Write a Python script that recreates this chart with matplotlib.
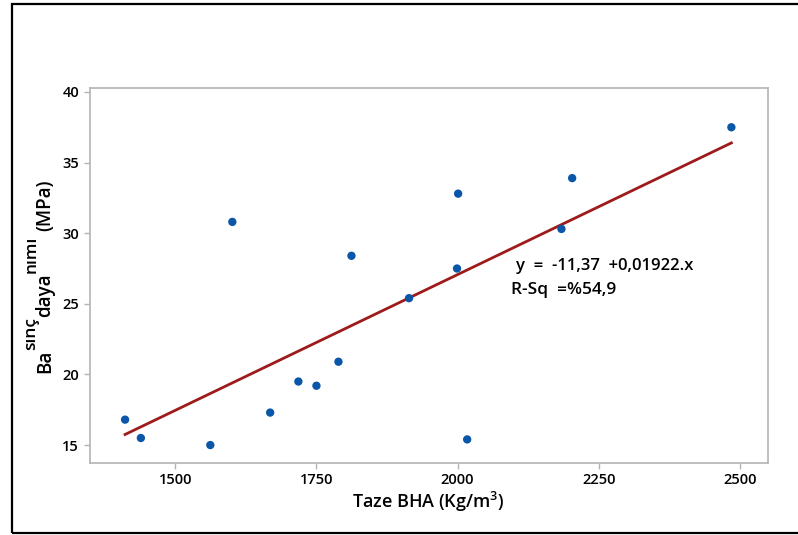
import matplotlib
matplotlib.use("Agg")
import matplotlib.pyplot as plt
from matplotlib.patches import Rectangle
import numpy as np

# Data
bha = [1411, 1439, 1562, 1601, 1668, 1718, 1750, 1789, 1812, 1914, 2001, 1999, 2017, 2184, 2203, 2485]
strength = [16.8, 15.5, 15.0, 30.8, 17.3, 19.5, 19.2, 20.9, 28.4, 25.4, 32.8, 27.5, 15.4, 30.3, 33.9, 37.5]
intercept = -11.37
slope = 0.01922
xticks = [1500, 1750, 2000, 2250, 2500]
yticks = [15, 20, 25, 30, 35, 40]
ylabel_parts = [("Ba", False), ("sınç", True), ("daya", False), ("nımı", True), ("(MPa)", False)]

plt.rcParams['font.family'] = ['Open Sans', 'DejaVu Sans']
plt.rcParams['mathtext.fontset'] = 'custom'
plt.rcParams['mathtext.rm'] = 'Open Sans:semibold'
plt.rcParams['mathtext.it'] = 'Open Sans:semibold'
plt.rcParams['mathtext.bf'] = 'Open Sans:bold'

W, H = 798, 535
fig = plt.figure(figsize=(W / 100, H / 100), dpi=100)
ax = fig.add_axes([89.5 / W, 1 - 463 / H, 678 / W, 375 / H])

ax.scatter(bha, strength, s=36, color='#0a56a8', zorder=3, edgecolors='none')
xl = np.array([min(bha), max(bha)])
ax.plot(xl, intercept + slope * xl, color='#9e1b1b', lw=2, zorder=2)

ax.set_xlim(1348, 2549)
ax.set_ylim(13.73, 40.28)
ax.set_xticks(xticks)
ax.set_yticks(yticks)
for s in ax.spines.values():
    s.set_color('#b4b4b4')
    s.set_linewidth(1.2)
ax.tick_params(axis='both', colors='#b4b4b4', labelcolor='black', labelsize=10.5, length=4, width=1)
for lab in ax.get_xticklabels() + ax.get_yticklabels():
    lab.set_fontweight('semibold')

ax.set_xlabel('Taze BHA (Kg/m$^{3}$)', fontsize=13, fontweight='semibold', labelpad=2)

ax.text(0.629, 0.525, 'y  =  -11,37  +0,01922.x', transform=ax.transAxes, fontsize=12,
        fontweight='semibold', va='center', ha='left')
ax.text(0.622, 0.461, 'R-Sq  =%54,9', transform=ax.transAxes, fontsize=12.5,
        fontweight='semibold', va='center', ha='left')

# y label built from pieces (superscripted parts as in the reference)
renderer = fig.canvas.get_renderer()
base_x = 50      # baseline position (pixels from left)
sup_x = 35.5     # raised baseline for superscript parts
ypos = H - 373   # start (pixels from bottom)
for i, (txt, sup) in enumerate(ylabel_parts):
    if txt.startswith("(") and i > 0:
        ypos += 5
    t = fig.text((sup_x if sup else base_x) / W, ypos / H, txt, rotation=90,
                 rotation_mode='anchor', ha='left', va='baseline',
                 fontsize=12.5 if sup else 13.5, fontweight='semibold')
    bb = t.get_window_extent(renderer)
    ypos += bb.height

fig.patches.append(Rectangle((12 / W, 2 / H), 1.0, 1 - 6 / H, transform=fig.transFigure,
                             fill=False, edgecolor='black', lw=1.6, clip_on=False))

fig.savefig('out.png', dpi=100, facecolor='white')
